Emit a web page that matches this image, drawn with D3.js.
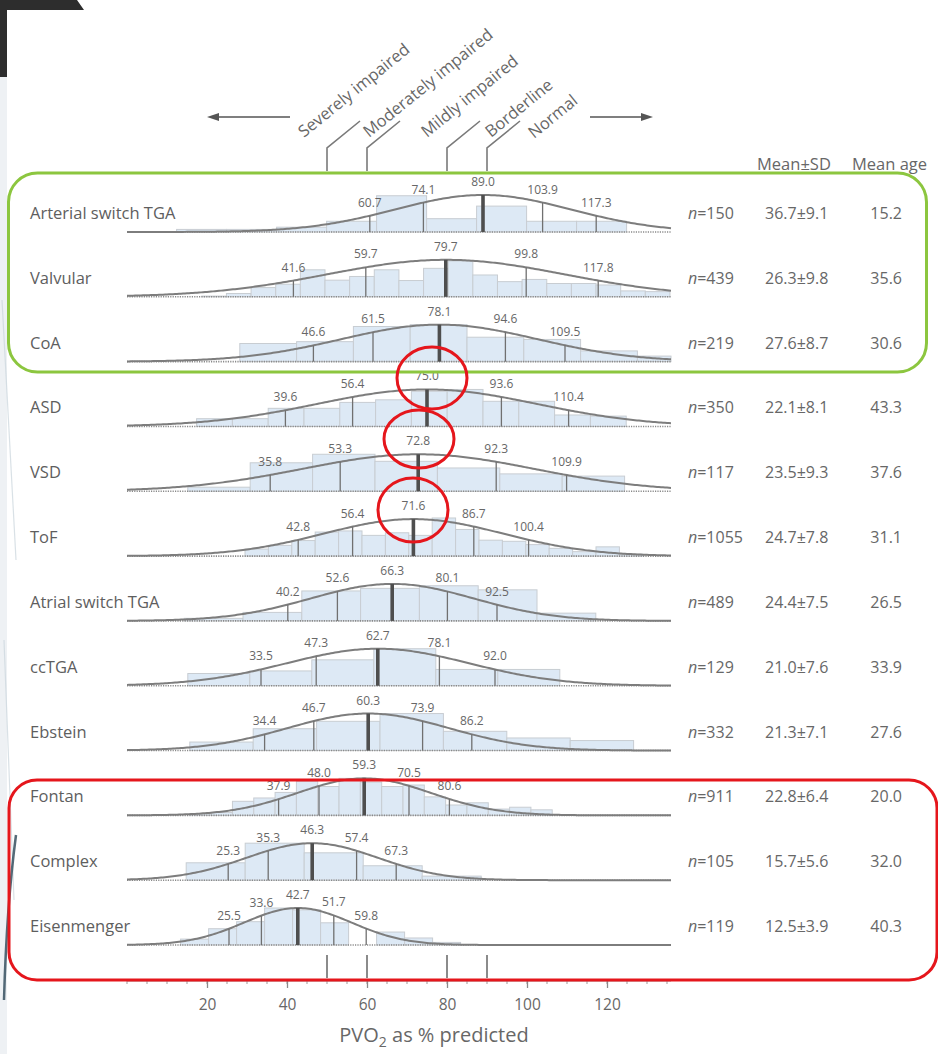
<!DOCTYPE html>
<html>
<head>
<meta charset="utf-8">
<script src="https://cdn.jsdelivr.net/npm/d3@7"></script>
<style>
  html, body { margin: 0; padding: 0; background: #fff; }
  svg { display: block; font-family: "Open Sans", "Noto Sans", sans-serif; }
</style>
</head>
<body>
<svg id="chart" width="938" height="1054"></svg>
<script>
// ---- data -------------------------------------------------------------
const categories = ["Arterial switch TGA", "Valvular", "CoA", "ASD", "VSD", "ToF",
  "Atrial switch TGA", "ccTGA", "Ebstein", "Fontan", "Complex", "Eisenmenger"];

const nValues = [150, 439, 219, 350, 117, 1055, 489, 129, 332, 911, 105, 119];
const vo2Mean = [36.7, 26.3, 27.6, 22.1, 23.5, 24.7, 24.4, 21.0, 21.3, 22.8, 15.7, 12.5];
const vo2SD   = [9.1, 9.8, 8.7, 8.1, 9.3, 7.8, 7.5, 7.6, 7.1, 6.4, 5.6, 3.9];
const meanAge = [15.2, 35.6, 30.6, 43.3, 37.6, 31.1, 26.5, 33.9, 27.6, 20.0, 32.0, 40.3];

// 10th, 25th, 50th (mean), 75th and 90th percentile of PVO2 % predicted
const percentiles = [
  [60.7, 74.1, 89.0, 103.9, 117.3],
  [41.6, 59.7, 79.7, 99.8, 117.8],
  [46.6, 61.5, 78.1, 94.6, 109.5],
  [39.6, 56.4, 75.0, 93.6, 110.4],
  [35.8, 53.3, 72.8, 92.3, 109.9],
  [42.8, 56.4, 71.6, 86.7, 100.4],
  [40.2, 52.6, 66.3, 80.1, 92.5],
  [33.5, 47.3, 62.7, 78.1, 92.0],
  [34.4, 46.7, 60.3, 73.9, 86.2],
  [37.9, 48.0, 59.3, 70.5, 80.6],
  [25.3, 35.3, 46.3, 57.4, 67.3],
  [25.5, 33.6, 42.7, 51.7, 59.8]
];

// histogram per group: first bin edge, bin width, relative bar heights
const histStart = [12.4, 18.7, 28.2, 17.4, 15.2, 29.5, 14.3, 15.2, 15.7, 15.7, 14.8, 13.4];
const histWidth = [12.5, 6.16, 14.2, 8.95, 15.6, 5.85, 14.7, 15.5, 15.85, 5.33, 14.75, 7.0];
const histHeights = [
  [0.07, 0.07, 0.13, 0.29, 0.98, 0.36, 0.70, 0.29, 0.29],
  [0.02, 0.09, 0.25, 0.34, 0.73, 0.45, 0.55, 0.73, 0.44, 0.77, 0.97, 0.59, 0.41, 0.47, 0.36, 0.36, 0.32, 0.16, 0.14],
  [0.49, 0.54, 0.95, 1.00, 0.66, 0.60, 0.29, 0.15],
  [0.21, 0.21, 0.49, 0.49, 0.65, 0.72, 0.95, 1.00, 0.68, 0.68, 0.31, 0.28],
  [0.11, 0.77, 1.00, 0.81, 0.63, 0.47, 0.41],
  [0.19, 0.29, 0.42, 0.65, 0.68, 0.56, 0.63, 0.56, 1.03, 0.72, 0.43, 0.40, 0.31, 0.21, 0.12, 0.25, 0.05],
  [0.07, 0.23, 0.81, 0.88, 0.95, 0.84, 0.21],
  [0.33, 0.40, 0.70, 1.00, 0.44, 0.44],
  [0.23, 0.59, 0.79, 1.00, 0.52, 0.34, 0.27],
  [0.04, 0.08, 0.38, 0.47, 0.62, 0.92, 0.78, 1.00, 0.90, 0.78, 0.82, 0.50, 0.28, 0.34, 0.17, 0.22, 0.15],
  [0.47, 1.00, 0.74, 0.39, 0.11],
  [0.16, 0.44, 0.63, 1.00, 0.95, 0.60, 0.00, 0.35, 0.19, 0.07]
];

const axisTicks = [20, 40, 60, 80, 100, 120];
const thresholds = [50, 60, 80, 90];
const classLabels = ["Severely impaired", "Moderately impaired", "Mildly impaired", "Borderline", "Normal"];
const columnHeaders = ["Mean\u00B1SD", "Mean age"];
const axisTitle = ["PVO", "2", " as % predicted"];

// ---- layout -----------------------------------------------------------
const svg = d3.select("#chart");
const W = 938, Hpage = 1054;
const textGrey = "#676767";

const x = d3.scaleLinear().domain([0, 136]).range([127, 671]);
const rowY = d3.scalePoint().domain(categories).range([232, 945]);
const curveH = d3.scaleLinear().domain([0, 1]).range([0, 37]);

// slide frame pieces around the figure
svg.append("rect").attr("width", W).attr("height", Hpage).attr("fill", "#fff");
svg.append("rect").attr("x", 0).attr("y", 70).attr("width", 7).attr("height", Hpage - 70).attr("fill", "#eef1f4");
svg.append("path")
  .attr("d", "M0,0 H77 L84,10 H7 V77 H0 Z")
  .attr("fill", "#2d2d2d");
svg.append("path")
  .attr("d", "M2,300 L16,560 M4,640 L14,900")
  .attr("stroke", "#c9d4dc").attr("stroke-width", 1.2).attr("fill", "none").attr("opacity", 0.7);
svg.append("path")
  .attr("d", "M16,835 C10,880 6,930 4,1000")
  .attr("stroke", "#36505f").attr("stroke-width", 2.5).attr("fill", "none").attr("opacity", 0.85);

// ---- category scale at the top -----------------------------------------
const scaleG = svg.append("g");
const arrow = (x1, x2, y) => {
  const dir = Math.sign(x2 - x1);
  scaleG.append("line").attr("x1", x1).attr("x2", x2 - dir * 6).attr("y1", y).attr("y2", y)
    .attr("stroke", "#555").attr("stroke-width", 1.6);
  scaleG.append("path")
    .attr("d", `M${x2},${y} L${x2 - dir * 12},${y - 4} L${x2 - dir * 12},${y + 4} Z`)
    .attr("fill", "#555");
};
arrow(290, 207, 117);
arrow(590, 653, 117);

thresholds.forEach(t => {
  scaleG.append("path")
    .attr("d", `M${x(t)},171 V148 L${x(t) + 33},121`)
    .attr("fill", "none").attr("stroke", "#7a7a7a").attr("stroke-width", 1.6);
});

const labelAnchors = [[304, 138], [369, 138], [427, 138], [491, 138], [534, 139]];
classLabels.forEach((lab, i) => {
  scaleG.append("text")
    .attr("transform", `translate(${labelAnchors[i][0]},${labelAnchors[i][1]}) rotate(-39)`)
    .attr("font-size", 16.5).attr("fill", textGrey)
    .text(lab);
});

// column headers
svg.append("text").attr("x", 757).attr("y", 170).attr("font-size", 16.5).attr("fill", textGrey).text(columnHeaders[0]);
svg.append("text").attr("x", 852).attr("y", 170).attr("font-size", 16.5).attr("fill", textGrey).text(columnHeaders[1]);

// ---- rows -------------------------------------------------------------
const z75 = 0.67449;
const samples = d3.range(0, 136.001, 0.5);

categories.forEach((cat, i) => {
  const g = svg.append("g").attr("transform", `translate(0,${rowY(cat)})`);
  const p = percentiles[i];
  const mu = p[2];
  const sd = (p[3] - p[1]) / (2 * z75);
  const dens = v => Math.exp(-0.5 * ((v - mu) / sd) ** 2);

  // histogram bars
  const bins = histHeights[i].map((h, k) => {
    const x0 = histStart[i] + k * histWidth[i];
    return { x0, x1: Math.min(x0 + histWidth[i], 136), h };
  }).filter(b => b.h > 0);
  g.selectAll("rect.bar").data(bins).join("rect")
    .attr("class", "bar")
    .attr("x", b => x(b.x0))
    .attr("width", b => x(b.x1) - x(b.x0))
    .attr("y", b => -curveH(b.h))
    .attr("height", b => curveH(b.h))
    .attr("fill", "#dde9f5")
    .attr("stroke", "#c8cdd2")
    .attr("stroke-width", 1);

  // dotted baseline
  g.append("line").attr("x1", x(0)).attr("x2", x(136)).attr("y1", 0).attr("y2", 0)
    .attr("stroke", "#8a8a8a").attr("stroke-width", 1.6).attr("stroke-dasharray", "1.2,1.2");

  // fitted normal curve
  g.append("path")
    .attr("d", d3.line().x(v => x(v)).y(v => -curveH(dens(v)))(samples))
    .attr("fill", "none").attr("stroke", "#7d7d7d").attr("stroke-width", 2);

  // percentile markers and their values
  p.forEach((v, j) => {
    const yTop = -curveH(dens(v));
    g.append("line").attr("x1", x(v)).attr("x2", x(v)).attr("y1", 0).attr("y2", yTop)
      .attr("stroke", j === 2 ? "#4e4e4e" : "#707070")
      .attr("stroke-width", j === 2 ? 3.6 : 1.3);
    g.append("text").attr("x", x(v)).attr("y", yTop - 9)
      .attr("text-anchor", "middle").attr("font-size", 12).attr("fill", textGrey)
      .text(v.toFixed(1));
  });

  // group name and summary columns
  g.append("text").attr("x", 30).attr("y", -13).attr("font-size", 16.5).attr("fill", "#5e5e5e").text(cat);
  const nt = g.append("text").attr("x", 688).attr("y", -13).attr("font-size", 16).attr("fill", textGrey);
  nt.append("tspan").attr("font-style", "italic").text("n");
  nt.append("tspan").text("=" + nValues[i]);
  g.append("text").attr("x", 765).attr("y", -13).attr("font-size", 16).attr("fill", textGrey)
    .text(vo2Mean[i].toFixed(1) + "\u00B1" + vo2SD[i].toFixed(1));
  g.append("text").attr("x", 902).attr("y", -13).attr("text-anchor", "end").attr("font-size", 16).attr("fill", textGrey)
    .text(meanAge[i].toFixed(1));
});

// ---- bottom axis ------------------------------------------------------
thresholds.forEach(t => {
  svg.append("line").attr("x1", x(t)).attr("x2", x(t)).attr("y1", 955).attr("y2", 978)
    .attr("stroke", "#6e6e6e").attr("stroke-width", 1.6);
});

const axisG = svg.append("g").attr("transform", "translate(0,981)");
axisG.selectAll("line.minor").data(d3.range(0, 136, 5)).join("line")
  .attr("class", "minor").attr("x1", d => x(d)).attr("x2", d => x(d)).attr("y1", 0).attr("y2", 3)
  .attr("stroke", "#9a9a9a").attr("stroke-width", 1);
axisG.call(d3.axisBottom(x).tickValues(axisTicks).tickSize(7).tickPadding(11).tickFormat(d3.format("d")));
axisG.select(".domain").attr("stroke", "#9a9a9a").attr("d", `M${x(0)},0H${x(136)}`);
axisG.selectAll(".tick line").attr("stroke", "#8a8a8a").attr("stroke-width", 1.3);
axisG.selectAll(".tick text").attr("font-size", 15.5).attr("fill", textGrey).attr("font-family", "Open Sans, sans-serif");

const title = svg.append("text").attr("x", 434).attr("y", 1042).attr("text-anchor", "middle")
  .attr("font-size", 20).attr("fill", textGrey);
title.append("tspan").text(axisTitle[0]);
title.append("tspan").attr("font-size", 14).attr("dy", 5).text(axisTitle[1]);
title.append("tspan").attr("dy", -5).text(axisTitle[2]);

// ---- highlight annotations -------------------------------------------
svg.append("rect").attr("x", 8.5).attr("y", 173).attr("width", 918).attr("height", 199).attr("rx", 29)
  .attr("fill", "none").attr("stroke", "#8cc63f").attr("stroke-width", 3);
svg.append("rect").attr("x", 9).attr("y", 780).attr("width", 928).attr("height", 200).attr("rx", 28)
  .attr("fill", "none").attr("stroke", "#e5161c").attr("stroke-width", 3);
[[432, 378, 35, 31], [419, 439, 35, 29], [413, 510, 35, 32]].forEach(e => {
  svg.append("ellipse").attr("cx", e[0]).attr("cy", e[1]).attr("rx", e[2]).attr("ry", e[3])
    .attr("fill", "none").attr("stroke", "#e5161c").attr("stroke-width", 3);
});
</script>
</body>
</html>
